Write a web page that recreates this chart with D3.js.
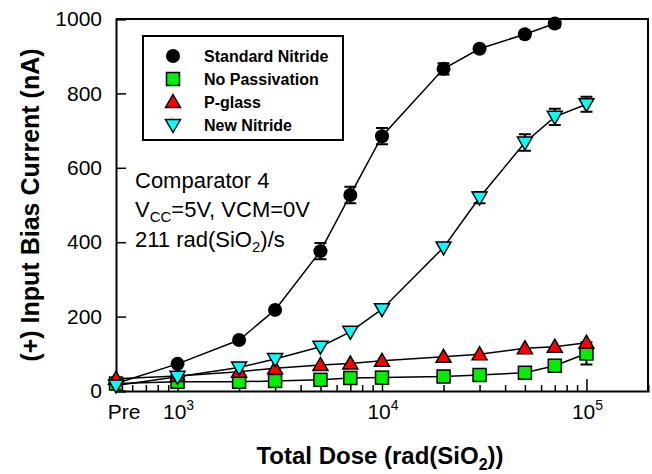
<!DOCTYPE html>
<html lang="en">
<head>
<meta charset="UTF-8">
<title>Input Bias Current vs Total Dose</title>
<script src="https://cdnjs.cloudflare.com/ajax/libs/d3/7.8.5/d3.min.js"></script>
<style>
  body { margin: 0; background: #fff; }
  svg { font-family: Arial, "Liberation Sans", sans-serif; }
</style>
</head>
<body>
<div id="chart"></div>
<script>
// dose values ("Pre" is placed at 500)
const doses = [500, 1e3, 2e3, 3e3, 5e3, 7e3, 1e4, 2e4, 3e4, 5e4, 7e4, 1e5];
const standardNitride = [20, 73, 137, 218, 376, 527, 685, 866, 920, 959, 988, null];
const noPassivation   = [20, 25, 25, 27, 30, 35, 36, 39, 43, 49, 68, 101];
const pGlass          = [33, 40, 52, 61, 70, 74, 81, 92, 99, 115, 119, 130];
const newNitride      = [15, 38, 63, 86, 119, 159, 220, 386, 520, 668, 737, 771];
// error bars (+/- nA), 0 = none
const errStandard = [0, 0, 0, 0, 22, 22, 22, 15, 0, 0, 10, 0];
const errNoPass   = [0, 0, 0, 0, 0, 0, 0, 0, 0, 0, 0, 30];
const errPGlass   = [0, 0, 0, 0, 0, 0, 0, 0, 0, 0, 0, 0];
const errNew      = [0, 0, 0, 0, 0, 0, 0, 0, 15, 22, 22, 20];

const seriesNames = ["Standard Nitride", "No Passivation", "P-glass", "New Nitride"];
const yTicks = [0, 200, 400, 600, 800, 1000];
const xMajor = [{v: 500, base: "Pre", sup: ""}, {v: 1e3, base: "10", sup: "3"},
                {v: 1e4, base: "10", sup: "4"}, {v: 1e5, base: "10", sup: "5"}];
const xMinor = [600, 700, 800, 900, 2e3, 3e3, 4e3, 5e3, 6e3, 7e3, 8e3, 9e3,
                2e4, 3e4, 4e4, 5e4, 6e4, 7e4, 8e4, 9e4];

const W = 652, H = 474;
const margin = {top: 19, right: 4, bottom: 83, left: 116};
const width = W - margin.left - margin.right;
const height = H - margin.top - margin.bottom;

const svg = d3.select("#chart").append("svg")
  .attr("width", W).attr("height", H);
const g = svg.append("g").attr("transform", `translate(${margin.left},${margin.top})`);

const x = d3.scaleLog().domain([500, 2e5]).range([0, width]);
const y = d3.scaleLinear().domain([0, 1000]).range([height, 0]);

// frame top and right
g.append("path")
  .attr("d", `M0,0H${width}V${height}`)
  .attr("fill", "none").attr("stroke", "#000").attr("stroke-width", 2);

// y axis
const yAxis = g.append("g")
  .call(d3.axisLeft(y).tickValues(yTicks).tickSize(-10).tickPadding(14).tickFormat(d3.format("d")));
yAxis.select(".domain").attr("stroke-width", 2);
yAxis.selectAll(".tick line").attr("stroke-width", 1.5);
yAxis.selectAll("text").attr("font-size", 21).attr("font-family", "Arial, 'Liberation Sans', sans-serif").attr("fill", "#000");

// x axis: minor ticks
const xMin = g.append("g").attr("transform", `translate(0,${height})`)
  .call(d3.axisBottom(x).tickValues(xMinor).tickSize(-6).tickFormat(""));
xMin.select(".domain").attr("stroke-width", 2);
xMin.selectAll(".tick line").attr("stroke-width", 1.5);

// x axis: major ticks
const xMaj = g.append("g").attr("transform", `translate(0,${height})`)
  .call(d3.axisBottom(x).tickValues(xMajor.slice(1).map(d => d.v)).tickSize(-12).tickFormat(""));
xMaj.select(".domain").remove();
xMaj.selectAll(".tick line").attr("stroke-width", 1.5);

// x tick labels with superscripts
const xl = g.append("g").selectAll("text").data(xMajor).join("text")
  .attr("x", d => x(d.v) + (d.sup ? 1 : 8))
  .attr("y", height + 28)
  .attr("text-anchor", "middle")
  .attr("font-size", 21);
xl.append("tspan").text(d => d.base);
xl.append("tspan").attr("font-size", 14).attr("dy", -9).text(d => d.sup);

// lines
const allSeries = [
  {name: seriesNames[0], vals: standardNitride, err: errStandard, shape: "circle", fill: "#000"},
  {name: seriesNames[1], vals: noPassivation, err: errNoPass, shape: "square", fill: "#00ee00"},
  {name: seriesNames[2], vals: pGlass, err: errPGlass, shape: "up", fill: "#ff0000"},
  {name: seriesNames[3], vals: newNitride, err: errNew, shape: "down", fill: "#00ffff"}
];
allSeries.forEach(s => {
  s.pts = doses.map((d, i) => ({d, v: s.vals[i], e: s.err[i]})).filter(p => p.v !== null);
});

const line = d3.line().x(p => x(p.d)).y(p => y(p.v));
g.selectAll(".series-line").data(allSeries).join("path")
  .attr("class", "series-line")
  .attr("d", s => line(s.pts))
  .attr("fill", "none").attr("stroke", "#000").attr("stroke-width", 1.5);

function drawMarker(sel, shape, fill) {
  if (shape === "circle") {
    sel.append("circle").attr("r", 7).attr("fill", fill);
  } else if (shape === "square") {
    sel.append("rect").attr("x", -6.5).attr("y", -6.5).attr("width", 13).attr("height", 13)
      .attr("fill", fill).attr("stroke", "#000").attr("stroke-width", 1.5);
  } else if (shape === "up") {
    sel.append("path").attr("d", "M0,-7.5L7.5,5.5H-7.5Z")
      .attr("fill", fill).attr("stroke", "#000").attr("stroke-width", 1.5);
  } else {
    sel.append("path").attr("d", "M0,7.5L7.5,-5.5H-7.5Z")
      .attr("fill", fill).attr("stroke", "#000").attr("stroke-width", 1.5);
  }
}

// error bars + markers per series
allSeries.forEach(s => {
  const eb = g.append("g").selectAll("g").data(s.pts.filter(p => p.e > 0)).join("g");
  eb.append("path")
    .attr("d", p => {
      const cx = x(p.d), y1 = y(p.v - p.e), y2 = y(p.v + p.e);
      return `M${cx},${y1}V${y2}M${cx - 6},${y1}H${cx + 6}M${cx - 6},${y2}H${cx + 6}`;
    })
    .attr("stroke", "#000").attr("stroke-width", 2).attr("fill", "none");
  const m = g.append("g").selectAll("g").data(s.pts).join("g")
    .attr("transform", p => `translate(${x(p.d)},${y(p.v)})`);
  drawMarker(m, s.shape, s.fill);
});

// legend
const lg = svg.append("g").attr("transform", "translate(143,36)");
lg.append("rect").attr("width", 200).attr("height", 104)
  .attr("fill", "#fff").attr("stroke", "#000").attr("stroke-width", 2);
const items = lg.selectAll(".item").data(allSeries).join("g")
  .attr("class", "item")
  .attr("transform", (s, i) => `translate(30,${20 + i * 23})`);
items.each(function(s) { drawMarker(d3.select(this), s.shape, s.fill); });
items.append("text").attr("x", 31).attr("y", 6)
  .attr("font-size", 16).attr("font-weight", "bold").text(s => s.name);

// annotation
svg.append("text").attr("x", 135).attr("y", 188).attr("font-size", 22).text("Comparator 4");
const l2 = svg.append("text").attr("x", 135).attr("y", 217).attr("font-size", 22);
l2.append("tspan").text("V");
l2.append("tspan").attr("font-size", 15).attr("dy", 5).text("CC");
l2.append("tspan").attr("dy", -5).text("=5V, VCM=0V");
const l3 = svg.append("text").attr("x", 135).attr("y", 247).attr("font-size", 22);
l3.append("tspan").text("211 rad(SiO");
l3.append("tspan").attr("font-size", 15).attr("dy", 5).text("2");
l3.append("tspan").attr("dy", -5).text(")/s");

// axis titles
svg.append("text")
  .attr("transform", `translate(39,${margin.top + height / 2}) rotate(-90)`)
  .attr("text-anchor", "middle").attr("font-size", 25).attr("font-weight", "bold")
  .text("(+) Input Bias Current (nA)");
const xt = svg.append("text")
  .attr("x", margin.left + width / 2 - 2).attr("y", 464)
  .attr("text-anchor", "middle").attr("font-size", 24).attr("font-weight", "bold");
xt.append("tspan").text("Total Dose (rad(SiO");
xt.append("tspan").attr("font-size", 16).attr("dy", 6).text("2");
xt.append("tspan").attr("dy", -6).text("))");
</script>
</body>
</html>
